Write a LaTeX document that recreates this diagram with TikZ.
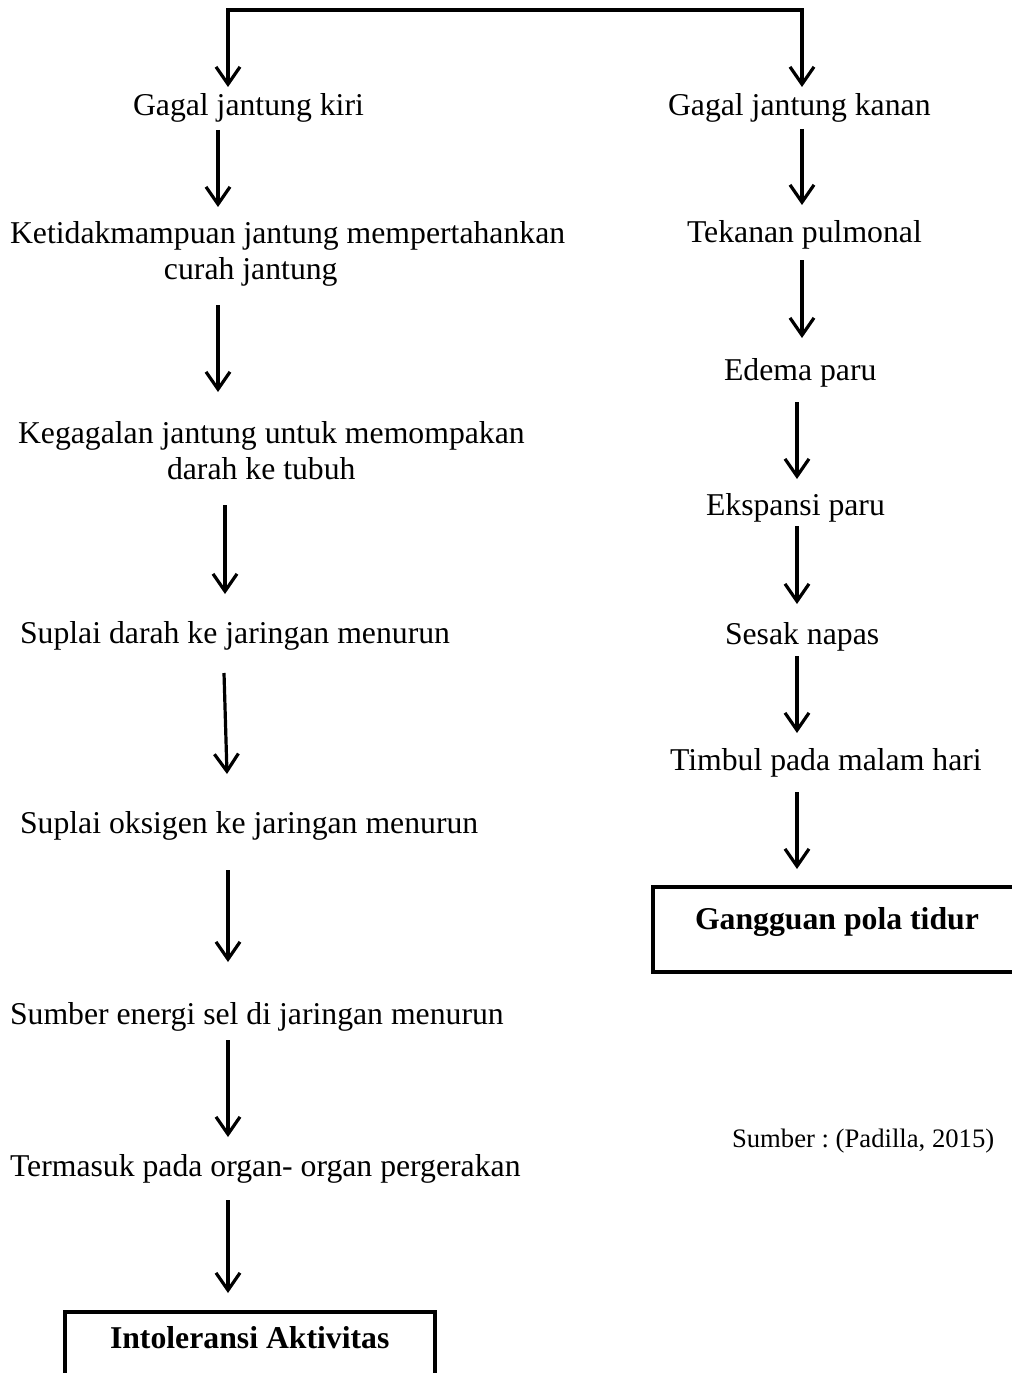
\documentclass[tikz,border=0pt]{standalone}
\usepackage{fontspec}
\setmainfont{Liberation Serif}
\usetikzlibrary{arrows.meta}
\frenchspacing
\begin{document}
\begin{tikzpicture}[x=0.75pt,y=-0.75pt,
  lbl/.style={inner sep=0pt, outer sep=0pt, font=\fontsize{23.8}{27}\selectfont, align=left},
  blbl/.style={inner sep=0pt, outer sep=0pt, font=\fontsize{23.8}{27}\selectfont\bfseries},
  srclbl/.style={inner sep=0pt, outer sep=0pt, font=\fontsize{20}{24}\selectfont},
  resbox/.style={draw, line width=3.2pt, inner sep=0pt, outer sep=0pt, minimum width=277.5pt},
  arr/.style={line width=2.4pt, -{Straight Barb[length=13pt,width=18pt]}},
  darr/.style={line width=2.4pt, {Straight Barb[length=13pt,width=18pt]}-{Straight Barb[length=13pt,width=18pt]}}]
\useasboundingbox (0,0) rectangle (1012,1373);
\clip (0,0) rectangle (1012,1373);

% ---- left column texts
\node[lbl, anchor=base west] (kiri) at (133,116) {Gagal jantung kiri};
\node[lbl, anchor=north west] (ketidak) at (10,221) {Ketidakmampuan jantung mempertahankan\\\hspace*{115.5pt}curah jantung};
\node[lbl, anchor=north west] (kegagalan) at (18,421) {Kegagalan jantung untuk memompakan\\\hspace*{111.75pt}darah ke tubuh};
\node[lbl, anchor=base west] (suplaidarah) at (20,643) {Suplai darah ke jaringan menurun};
\node[lbl, anchor=base west] (suplaiok) at (20,833) {Suplai oksigen ke jaringan menurun};
\node[lbl, anchor=base west] (energi) at (10,1024) {Sumber energi sel di jaringan menurun};
\node[lbl, anchor=base west] (organ) at (10,1176) {Termasuk pada organ- organ pergerakan};
\node[resbox, anchor=north west, minimum height=75pt] (intolbox) at (65,1312) {};
\node[blbl, anchor=base west] (intol) at (110,1348) {Intoleransi Aktivitas};

% ---- right column texts
\node[lbl, anchor=base west] (kanan) at (668,116) {Gagal jantung kanan};
\node[lbl, anchor=base west] (tekanan) at (687,243) {Tekanan pulmonal};
\node[lbl, anchor=base west] (edema) at (724,380) {Edema paru};
\node[lbl, anchor=base west] (ekspansi) at (706,515) {Ekspansi paru};
\node[lbl, anchor=base west] (sesak) at (725,644) {Sesak napas};
\node[lbl, anchor=base west] (timbul) at (670,770) {Timbul pada malam hari};
\node[resbox, anchor=north west, minimum height=63.75pt] (gangbox) at (653,887) {};
\node[blbl, anchor=base west] (gang) at (695,929) {Gangguan pola tidur};
\node[srclbl, anchor=base west] (sumber) at (732,1147) {Sumber : (Padilla, 2015)};

% ---- connector end points
\coordinate (tL) at (228,87);
\coordinate (tM) at (514,10);
\coordinate (tR) at (802,87);
\coordinate (a2s) at (218,130); \coordinate (a2e) at (218,207);
\coordinate (a3s) at (218,305); \coordinate (a3e) at (218,392);
\coordinate (a4s) at (225,505); \coordinate (a4e) at (225,594);
\coordinate (a5s) at (224,673); \coordinate (a5e) at (227,774);
\coordinate (a6s) at (228,870); \coordinate (a6e) at (228,962);
\coordinate (a7s) at (228,1040); \coordinate (a7e) at (228,1137);
\coordinate (a8s) at (228,1200); \coordinate (a8e) at (228,1293);
\coordinate (b1s) at (802,129); \coordinate (b1e) at (802,205);
\coordinate (b2s) at (802,260); \coordinate (b2e) at (802,338);
\coordinate (b3s) at (797,402); \coordinate (b3e) at (797,479);
\coordinate (b4s) at (797,526); \coordinate (b4e) at (797,604);
\coordinate (b5s) at (797,656); \coordinate (b5e) at (797,733);
\coordinate (b6s) at (797,792); \coordinate (b6e) at (797,869);

% ---- connectors
\draw[darr] (tL) |- (tM) -| (tR);
\draw[arr] (a2s) -- (a2e);
\draw[arr] (a3s) -- (a3e);
\draw[arr] (a4s) -- (a4e);
\draw[arr] (a5s) -- (a5e);
\draw[arr] (a6s) -- (a6e);
\draw[arr] (a7s) -- (a7e);
\draw[arr] (a8s) -- (a8e);
\draw[arr] (b1s) -- (b1e);
\draw[arr] (b2s) -- (b2e);
\draw[arr] (b3s) -- (b3e);
\draw[arr] (b4s) -- (b4e);
\draw[arr] (b5s) -- (b5e);
\draw[arr] (b6s) -- (b6e);
\end{tikzpicture}
\end{document}
